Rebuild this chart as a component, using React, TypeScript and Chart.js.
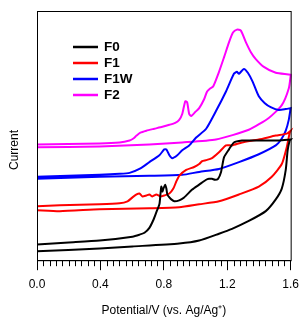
import React, { useEffect, useRef } from "react";
import { Chart, registerables } from "chart.js";

Chart.register(...registerables);

// Series labels and colours
const seriesNames = ["F0", "F1", "F1W", "F2"];
const seriesColors = ["#000000", "#ff0000", "#0000ff", "#ff00ff"];

// F0 forward (anodic) scan: potential (V) and current (a.u.)
const f0FwdV = [0, 0.2, 0.395, 0.602, 0.646, 0.678, 0.709, 0.734, 0.753, 0.772, 0.778, 0.784, 0.791, 0.797, 0.809, 0.816, 0.822, 0.835, 0.847, 0.866, 0.897, 0.928, 0.979, 1.023, 1.067, 1.085, 1.104, 1.123, 1.142, 1.161, 1.18, 1.211, 1.242, 1.293, 1.336, 1.443, 1.525, 1.6];
const f0FwdI = [16, 18, 20, 24, 26, 28, 33, 41, 49, 57, 66, 75, 70, 73, 77, 73, 67, 64, 62, 60, 61, 64, 72, 77, 82, 83, 83, 82, 83, 90, 105, 113, 120, 122, 122, 122, 122, 123];
// F0 reverse scan
const f0RevV = [1.6, 1.594, 1.581, 1.569, 1.544, 1.506, 1.443, 1.336, 1.23, 1.148, 1.023, 0.897, 0.602, 0.395, 0];
const f0RevI = [123, 122, 112, 92, 73, 62, 50, 40, 32, 27, 20, 17, 14, 12, 9];

// F1
const f1FwdV = [0, 0.144, 0.395, 0.521, 0.571, 0.602, 0.628, 0.646, 0.665, 0.69, 0.709, 0.728, 0.753, 0.778, 0.803, 0.835, 0.86, 0.878, 0.897, 0.941, 0.991, 1.023, 1.042, 1.067, 1.104, 1.148, 1.192, 1.23, 1.293, 1.399, 1.506, 1.575, 1.6];
const f1FwdI = [55, 56, 57, 58, 60, 64, 67, 68, 65, 66, 67, 65, 67, 65, 66, 68, 73, 80, 86, 92, 95, 98, 101, 102, 104, 110, 117, 117, 120, 123, 127, 129, 132];
const f1RevV = [1.6, 1.594, 1.575, 1.544, 1.481, 1.399, 1.274, 1.148, 1.023, 0.897, 0.709, 0.395, 0.144, 0];
const f1RevI = [132, 130, 115, 98, 85, 75, 67, 60, 57, 54, 53, 52, 50, 51];

// F1W
const f1wFwdV = [0, 0.395, 0.521, 0.584, 0.646, 0.709, 0.772, 0.803, 0.816, 0.835, 0.853, 0.885, 0.916, 0.96, 1.004, 1.067, 1.129, 1.192, 1.242, 1.261, 1.274, 1.305, 1.33, 1.36, 1.399, 1.437, 1.474, 1.525, 1.569, 1.6];
const f1wFwdI = [85, 87, 88, 89, 93, 100, 107, 113, 113, 107, 104, 107, 112, 117, 125, 134, 152, 172, 190, 192, 190, 195, 191, 182, 167, 160, 156, 153, 154, 155];
const f1wRevV = [1.6, 1.588, 1.569, 1.544, 1.506, 1.399, 1.274, 1.148, 1.023, 0.916, 0.709, 0.395, 0];
const f1wRevI = [155, 143, 132, 124, 117, 108, 100, 93, 90, 87, 86, 85, 83];

// F2
const f2FwdV = [0, 0.395, 0.521, 0.584, 0.608, 0.628, 0.652, 0.69, 0.74, 0.791, 0.835, 0.872, 0.897, 0.916, 0.935, 0.947, 0.96, 0.973, 0.998, 1.023, 1.054, 1.073, 1.092, 1.111, 1.148, 1.18, 1.211, 1.236, 1.261, 1.286, 1.318, 1.349, 1.38, 1.431, 1.506, 1.6];
const f2FwdI = [118, 119, 120, 122, 124, 127, 130, 132, 134, 136, 138, 140, 143, 149, 162, 161, 149, 147, 151, 155, 164, 172, 175, 177, 192, 207, 222, 232, 235, 234, 222, 212, 205, 197, 191, 189];
const f2RevV = [1.6, 1.588, 1.544, 1.462, 1.336, 1.129, 0.916, 0.709, 0.395, 0];
const f2RevI = [188, 175, 158, 145, 133, 123, 120, 118, 116, 115];

// X-axis ticks
const xMajorTicks = [0, 0.4, 0.8, 1.2, 1.6];
const xMinorStep = 0.04;
const xTitle = "Potential/V (vs. Ag/Ag\u207A)";
const yTitle = "Current";

const loops = [
  [f0FwdV, f0FwdI, f0RevV, f0RevI],
  [f1FwdV, f1FwdI, f1RevV, f1RevI],
  [f1wFwdV, f1wFwdI, f1wRevV, f1wRevI],
  [f2FwdV, f2FwdI, f2RevV, f2RevI],
];

const FONT = "'Liberation Sans', Arial, sans-serif";

const framePlugin = {
  id: "frameAndExtras",
  afterDraw(chart: any) {
    const { ctx, chartArea } = chart;
    const xs = chart.scales.x;
    ctx.save();
    // frame
    ctx.strokeStyle = "#000";
    ctx.lineWidth = 1;
    ctx.strokeRect(chartArea.left + 0.5, chartArea.top + 0.5, chartArea.right - chartArea.left, chartArea.bottom - chartArea.top);
    // minor ticks
    const n = Math.round((xs.max - xs.min) / xMinorStep);
    ctx.beginPath();
    for (let i = 0; i <= n; i++) {
      if (i % 10 === 0) continue;
      const px = Math.round(xs.getPixelForValue(xs.min + i * xMinorStep)) + 0.5;
      ctx.moveTo(px, chartArea.bottom);
      ctx.lineTo(px, chartArea.bottom + 6);
    }
    ctx.stroke();
    // y title
    ctx.fillStyle = "#000";
    ctx.font = `12px ${FONT}`;
    ctx.textAlign = "center";
    ctx.textBaseline = "middle";
    ctx.translate(15, 150);
    ctx.rotate(-Math.PI / 2);
    ctx.fillText(yTitle, 0, 0);
    ctx.restore();
    // legend
    ctx.save();
    chart.data.datasets.forEach((ds: any, i: number) => {
      const y = chartArea.top + 36 + i * 16;
      ctx.strokeStyle = ds.borderColor;
      ctx.lineWidth = 2.5;
      ctx.beginPath();
      ctx.moveTo(chartArea.left + 36, y);
      ctx.lineTo(chartArea.left + 61, y);
      ctx.stroke();
      ctx.fillStyle = "#000";
      ctx.font = `bold 13.5px ${FONT}`;
      ctx.textAlign = "left";
      ctx.textBaseline = "middle";
      ctx.fillText(ds.label, chartArea.left + 67, y + 0.5);
    });
    ctx.restore();
  },
};

export default function App() {
  const ref = useRef<HTMLCanvasElement>(null);
  useEffect(() => {
    document.body.style.margin = "0";
    const datasets = loops.map((l, i) => {
      const pts: { x: number; y: number }[] = [];
      l[0].forEach((v, j) => pts.push({ x: v, y: l[1][j] }));
      l[2].forEach((v, j) => pts.push({ x: v, y: l[3][j] }));
      return {
        label: seriesNames[i],
        data: pts,
        showLine: true,
        borderColor: seriesColors[i],
        backgroundColor: seriesColors[i],
        borderWidth: 2,
        pointRadius: 0,
        tension: 0.2,
        fill: false,
        clip: 3,
      };
    });
    const chart = new Chart(ref.current!, {
      type: "scatter",
      data: { datasets },
      options: {
        animation: false,
        responsive: false,
        devicePixelRatio: 1,
        layout: { padding: { left: 37, right: 14, top: 11, bottom: 10 } },
        plugins: { legend: { display: false }, tooltip: { enabled: false } },
        scales: {
          x: {
            type: "linear",
            min: 0,
            max: 1.6,
            afterBuildTicks: (scale: any) => {
              scale.ticks = xMajorTicks.map((v) => ({ value: v }));
            },
            ticks: {
              autoSkip: false,
              maxRotation: 0,
              padding: 7,
              color: "#000",
              font: { family: FONT, size: 12 },
              callback: (v: any) => Number(v).toFixed(1),
            },
            grid: { drawOnChartArea: false, drawTicks: true, tickLength: 10, color: "#000", lineWidth: 1 },
            border: { display: true, color: "#000", width: 1 },
            title: {
              display: true,
              text: xTitle,
              color: "#000",
              font: { family: FONT, size: 12 },
              padding: { top: 5, bottom: 0 },
            },
          },
          y: { display: false, min: 0, max: 254 },
        },
      },
      plugins: [framePlugin],
    });
    return () => chart.destroy();
  }, []);
  return <canvas ref={ref} width={306} height={328} />;
}
